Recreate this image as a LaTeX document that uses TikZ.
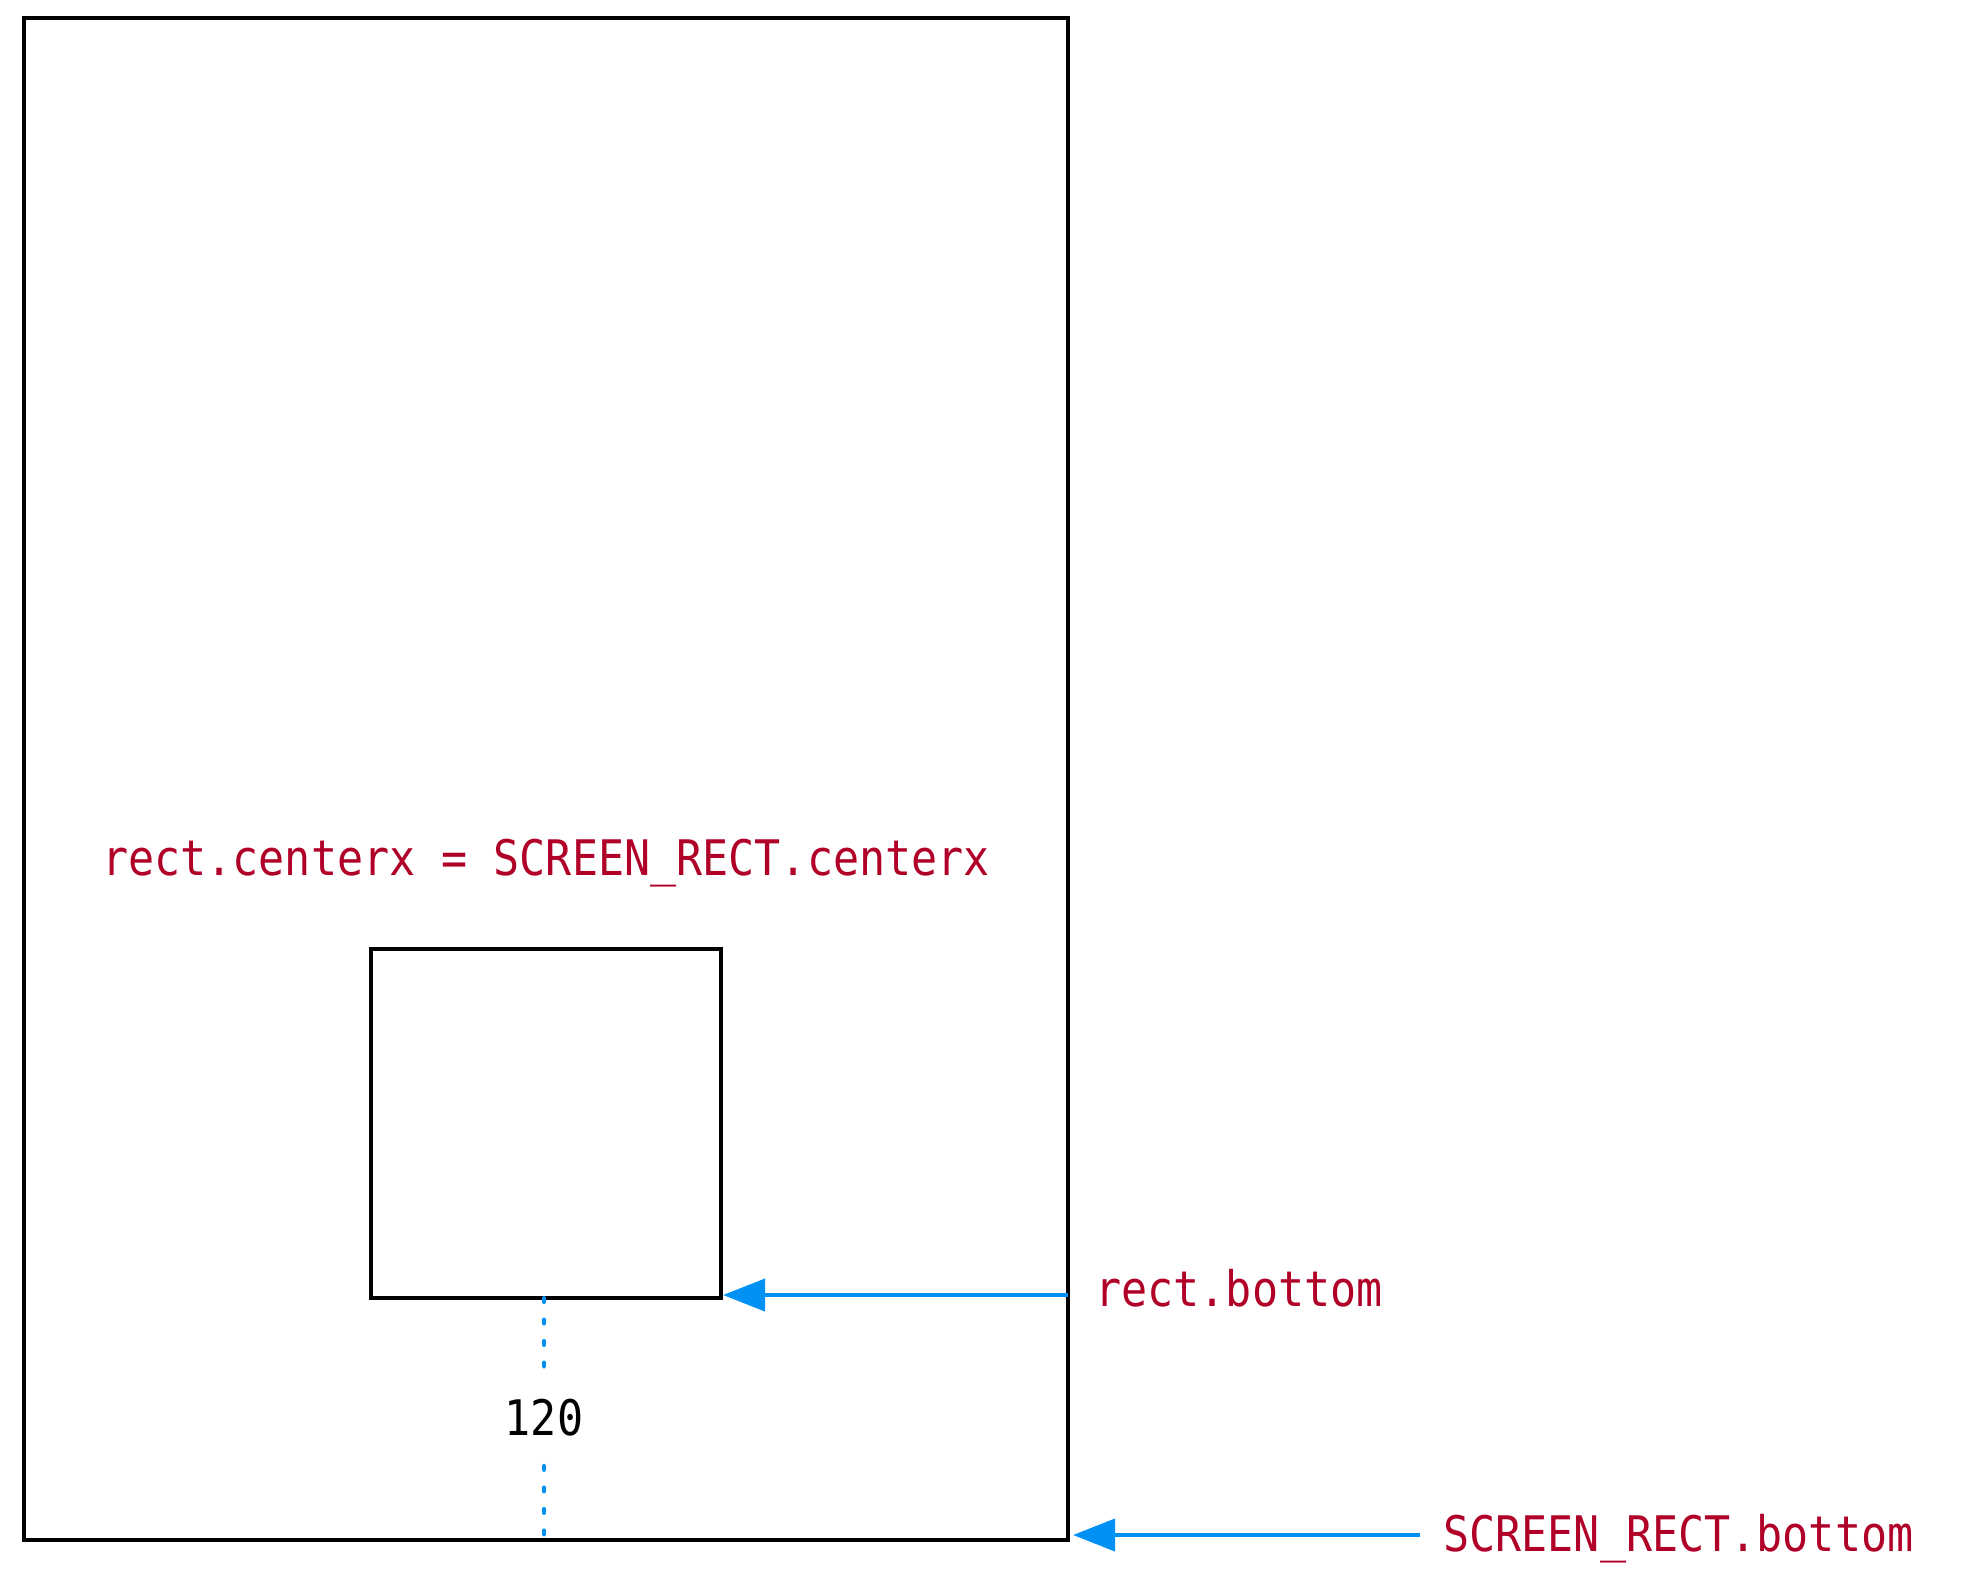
\documentclass[tikz,border=0pt]{standalone}
\usepackage{fontspec}
\newfontfamily\codefont[FakeStretch=0.885]{DejaVu Sans Mono}
\usetikzlibrary{arrows.meta,calc}
\definecolor{codered}{RGB}{176,0,40}
\definecolor{guideblue}{RGB}{0,145,245}
\tikzset{
  box/.style={draw=black, line width=2.2pt, inner sep=0pt, outer sep=0pt, fill=none},
  codelabel/.style={font=\codefont\fontsize{24.5}{28}\selectfont, text=codered, inner sep=0pt},
  numlabel/.style={font=\codefont\fontsize{24.5}{28}\selectfont, text=black, inner sep=0pt},
  pointer/.style={draw=guideblue, line width=2pt, -{Triangle[length=21pt,width=16pt]}},
  guide/.style={draw=guideblue, line width=2pt, line cap=round, dash pattern=on 2pt off 8.75pt}
}
\begin{document}
\begin{tikzpicture}[x=0.5pt, y=-0.5pt]
  \useasboundingbox (0,0) rectangle (1979,1584);

  % screen and the rectangle placed inside it
  \node[box, minimum width=522pt, minimum height=761pt] (screen) at (546,779) {};
  \node[box, minimum width=175pt, minimum height=174.5pt] (rect) at (546,1123.5) {};

  % caption
  \node[codelabel, anchor=base] (cap) at (546,875) {rect.centerx = SCREEN\_RECT.centerx};

  % gap between the two bottoms
  \node[numlabel, minimum height=47.5pt] (gap) at (544,1418) {120};
  \draw[guide] (rect.south -| gap.north) -- (gap.north);
  \draw[guide] (gap.south) -- (gap.south |- screen.south);

  % rect.bottom pointer
  \node[codelabel, anchor=base west] (lblrect) at (1095,1306) {rect.bottom};
  \coordinate (tiprect) at ($(rect.south east)+(2,-3)$);
  \draw[pointer] (screen.east |- tiprect) -- (tiprect);

  % SCREEN_RECT.bottom pointer
  \node[codelabel, anchor=base west] (lblscreen) at (1443,1551) {SCREEN\_RECT.bottom};
  \coordinate (tipscreen) at ($(screen.south east)+(5,-5)$);
  \coordinate (tailscreen) at (1420,0);
  \draw[pointer] (tailscreen |- tipscreen) -- (tipscreen);
\end{tikzpicture}
\end{document}
